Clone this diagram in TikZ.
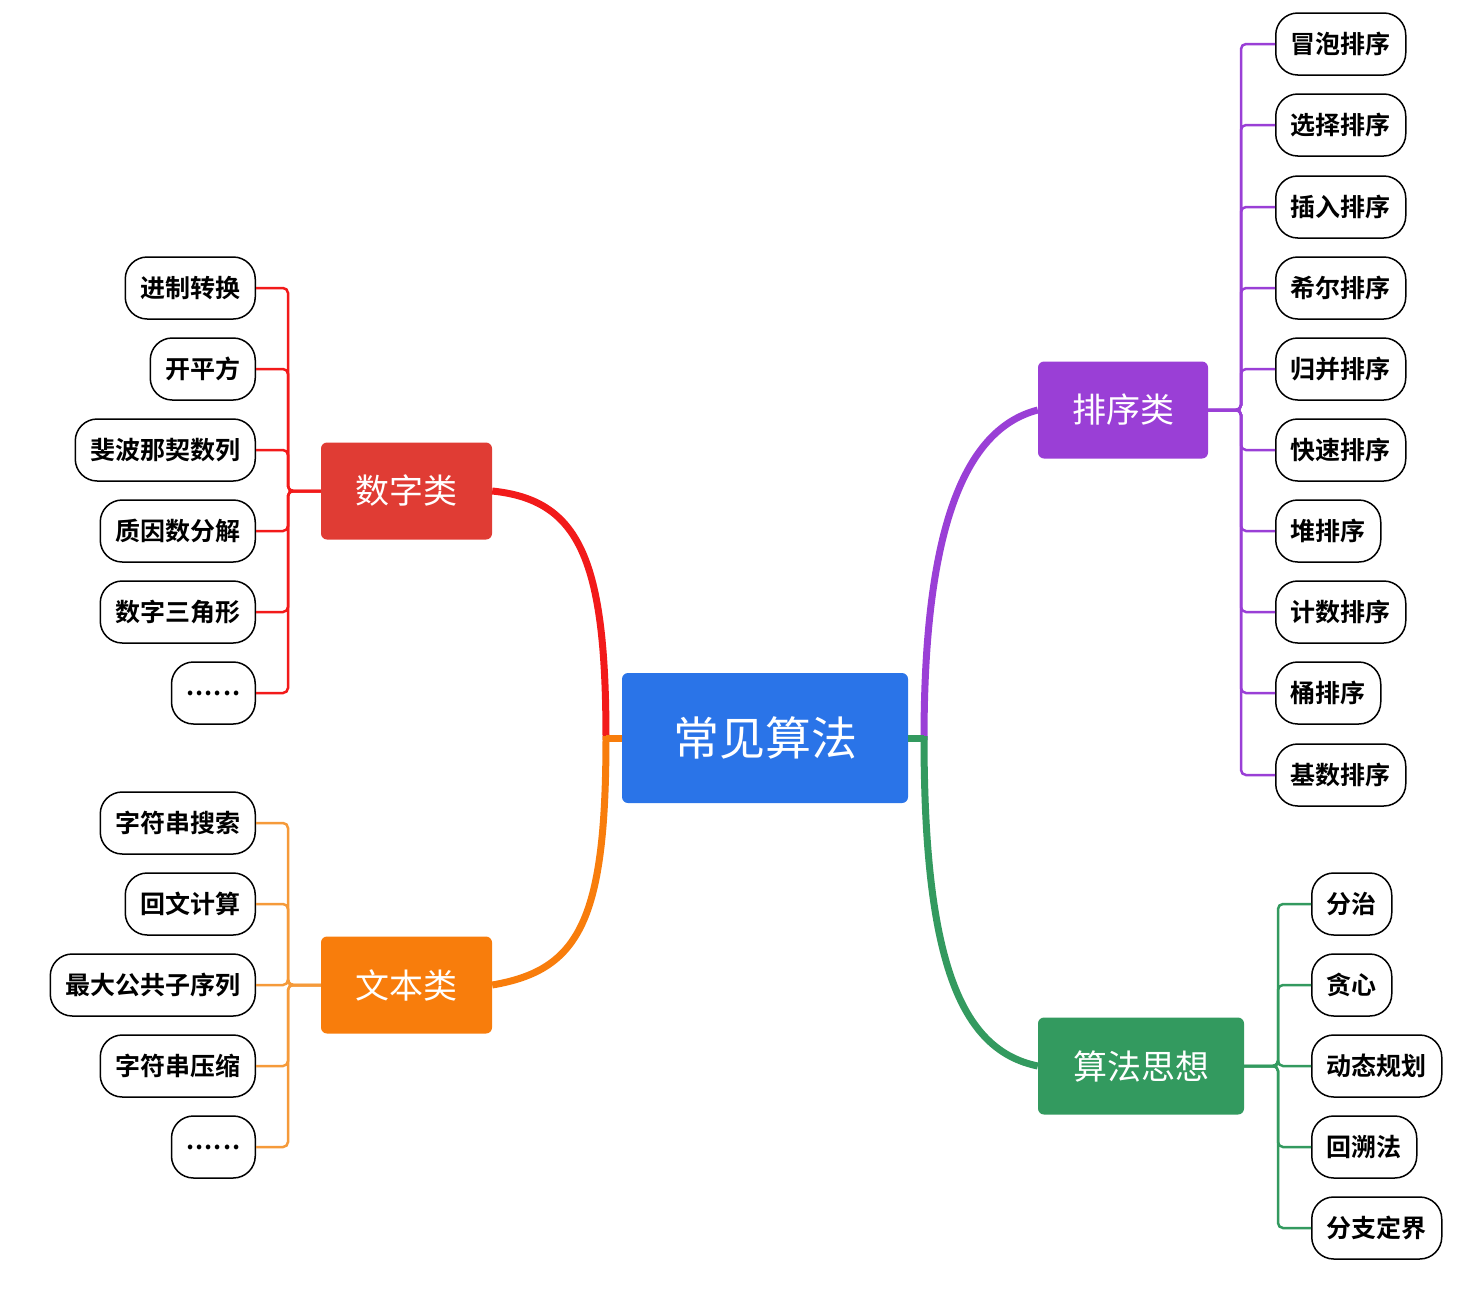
\documentclass[tikz,border=0pt]{standalone}
\usepackage{fontspec}
\setmainfont{Noto Sans CJK SC}[BoldFont=Noto Sans CJK SC Bold]
\newcommand{\sixdots}{.\kern1pt.\kern1pt.\kern1pt.\kern1pt.\kern1pt.}
\begin{document}
\begin{tikzpicture}[x=1pt,y=-1pt,
 leaf/.style={draw=black,line width=1.5pt,rounded corners=22pt,minimum height=62pt,inner xsep=15pt,font=\fontsize{25}{25}\selectfont\bfseries,fill=white},
 lleaf/.style={leaf,anchor=east},
 rleaf/.style={leaf,anchor=west},
 cat/.style={rounded corners=6pt,text=white,font=\fontsize{34}{34}\selectfont,minimum height=97pt,inner sep=0pt},
 br/.style={line width=2.5pt,rounded corners=5pt},
 cv/.style={line width=7pt}]
\definecolor{cb}{HTML}{2A74E8}\definecolor{cr}{HTML}{E03C34}\definecolor{co}{HTML}{F87D0C}
\definecolor{cp}{HTML}{9A3FD6}\definecolor{cg}{HTML}{339A5F}
\definecolor{lr}{HTML}{F21A1A}\definecolor{lo}{HTML}{F59A3A}\definecolor{lp}{HTML}{9A3FD6}\definecolor{lg}{HTML}{339A5F}
\useasboundingbox (0,0) rectangle (1480,1288);
\node[fill=cb,rounded corners=6pt,text=white,font=\fontsize{46}{46}\selectfont,minimum width=286pt,minimum height=130pt] (c) at (765,738) {常见算法};
\node[cat,fill=cr,minimum width=171pt] (n) at (406.5,491) {数字类};
\node[cat,fill=co,minimum width=171pt] (t) at (406.5,985) {文本类};
\node[cat,fill=cp,minimum width=170pt] (s) at (1123,410) {排序类};
\node[cat,fill=cg,minimum width=206pt] (a) at (1141,1066) {算法思想};
\coordinate (cl) at (606,738);\coordinate (cr2) at (924,738);
\draw[lr,cv] (606,740) .. controls (606,560) and (580,500) .. (n.east);
\draw[co,cv] (c.west) -- (cl);
\draw[co,cv] (606,736) .. controls (606,920) and (580,970) .. (t.east);
\draw[cp,cv] (924,740) .. controls (924,540) and (960,430) .. (s.west);
\draw[cg,cv] (c.east) -- (cr2);
\draw[cg,cv] (924,736) .. controls (924,960) and (960,1050) .. (a.west);
\foreach \t/\y [count=\i] in {进制转换/288,开平方/369,斐波那契数列/450,质因数分解/531,数字三角形/612,\sixdots/693}
 {\node[lleaf] (n\i) at (256,\y) {\t};
  \draw[lr,br] (n\i.east) -- (288,\y) |- (n.west);}
\foreach \t/\y [count=\i] in {字符串搜索/823,回文计算/904,最大公共子序列/985,字符串压缩/1066,\sixdots/1147}
 {\node[lleaf] (t\i) at (256,\y) {\t};
  \draw[lo,br] (t\i.east) -- (288,\y) |- (t.west);}
\foreach \t/\y [count=\i] in {冒泡排序/44,选择排序/125,插入排序/207,希尔排序/288,归并排序/369,快速排序/450,堆排序/531,计数排序/612,桶排序/693,基数排序/775}
 {\node[rleaf] (s\i) at (1275,\y) {\t};
  \draw[lp,br] (s\i.west) -- (1241,\y) |- (s.east);}
\foreach \t/\y [count=\i] in {分治/904,贪心/985,动态规划/1066,回溯法/1147,分支定界/1228}
 {\node[rleaf] (a\i) at (1311,\y) {\t};
  \draw[lg,br] (a\i.west) -- (1278,\y) |- (a.east);}
\end{tikzpicture}
\end{document}
